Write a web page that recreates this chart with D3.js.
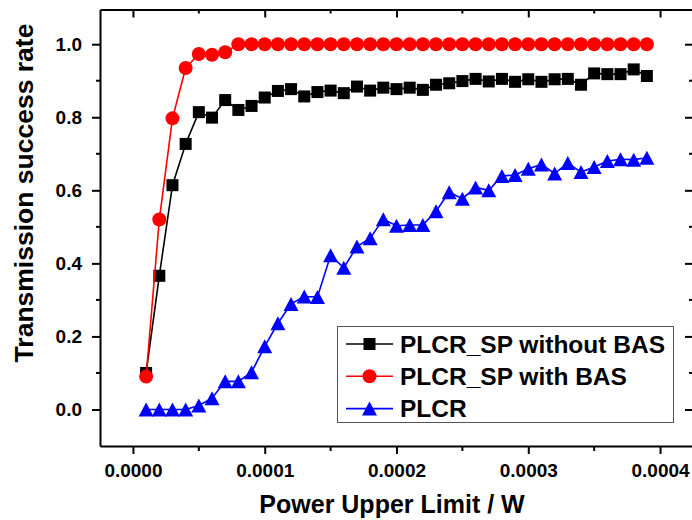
<!DOCTYPE html>
<html>
<head>
<meta charset="utf-8">
<script src="https://cdn.jsdelivr.net/npm/d3@7"></script>
<style>
  html, body { margin: 0; padding: 0; background: #fff; }
  svg { display: block; font-family: "Liberation Sans", Arial, sans-serif; font-weight: bold; }
</style>
</head>
<body>
<svg id="chart" width="692" height="520"></svg>
<script>
// Power upper limit (W)
const power = [
  0.00001, 0.00002, 0.00003, 0.00004, 0.00005, 0.00006, 0.00007, 0.00008, 0.00009, 0.00010,
  0.00011, 0.00012, 0.00013, 0.00014, 0.00015, 0.00016, 0.00017, 0.00018, 0.00019, 0.00020,
  0.00021, 0.00022, 0.00023, 0.00024, 0.00025, 0.00026, 0.00027, 0.00028, 0.00029, 0.00030,
  0.00031, 0.00032, 0.00033, 0.00034, 0.00035, 0.00036, 0.00037, 0.00038, 0.00039
];

// Transmission success rate per scheme
const spWithoutBAS = [
  0.100, 0.366, 0.614, 0.727, 0.814, 0.799, 0.847, 0.820, 0.831, 0.854,
  0.872, 0.877, 0.857, 0.869, 0.873, 0.866, 0.884, 0.873, 0.881, 0.877,
  0.881, 0.875, 0.889, 0.893, 0.899, 0.905, 0.898, 0.905, 0.897, 0.904,
  0.897, 0.904, 0.905, 0.889, 0.920, 0.918, 0.918, 0.931, 0.913
];
const spWithBAS = [
  0.090, 0.520, 0.797, 0.935, 0.973, 0.971, 0.978, 1.000, 1.000, 1.000,
  1.000, 1.000, 1.000, 1.000, 1.000, 1.000, 1.000, 1.000, 1.000, 1.000,
  1.000, 1.000, 1.000, 1.000, 1.000, 1.000, 1.000, 1.000, 1.000, 1.000,
  1.000, 1.000, 1.000, 1.000, 1.000, 1.000, 1.000, 1.000, 1.000
];
const plcr = [
  0.000, 0.000, 0.000, 0.000, 0.011, 0.031, 0.077, 0.077, 0.102, 0.173,
  0.236, 0.289, 0.309, 0.308, 0.422, 0.388, 0.446, 0.469, 0.521, 0.503,
  0.505, 0.505, 0.543, 0.595, 0.577, 0.608, 0.600, 0.639, 0.642, 0.659,
  0.671, 0.646, 0.675, 0.650, 0.664, 0.680, 0.685, 0.684, 0.689
];

const seriesNames = ["PLCR_SP without BAS", "PLCR_SP with BAS", "PLCR"];
const xTicks = [0, 0.0001, 0.0002, 0.0003, 0.0004];
const xMinorTicks = [0.00005, 0.00015, 0.00025, 0.00035];
const yTicks = [0, 0.2, 0.4, 0.6, 0.8, 1.0];
const yMinorTicks = [0.1, 0.3, 0.5, 0.7, 0.9];

const svg = d3.select("#chart");
const plotLeft = 100, plotRight = 693, plotTop = 9.5, plotBottom = 446;

const x = d3.scaleLinear().domain([-0.000025, 0.000425]).range([plotLeft, plotRight]);
const y = d3.scaleLinear().domain([-0.1, 1.095]).range([plotBottom, plotTop]);

const series = [
  { name: seriesNames[0], values: spWithoutBAS, color: "#000000", marker: "square" },
  { name: seriesNames[1], values: spWithBAS, color: "#ff0000", marker: "circle" },
  { name: seriesNames[2], values: plcr, color: "#0000ff", marker: "triangle" }
];

function drawMarker(g, type, color) {
  if (type === "square") {
    g.append("rect").attr("x", -6).attr("y", -6).attr("width", 12).attr("height", 12).attr("fill", color);
  } else if (type === "circle") {
    g.append("circle").attr("r", 7).attr("fill", color);
  } else {
    g.append("path").attr("d", "M0,-7L7.5,7L-7.5,7Z").attr("fill", color);
  }
}

// Data lines and markers
const line = d3.line().x((d, i) => x(power[i])).y(d => y(d));
series.forEach(s => {
  const g = svg.append("g");
  g.append("path").datum(s.values)
    .attr("d", line).attr("fill", "none")
    .attr("stroke", s.color).attr("stroke-width", 1.6);
  g.selectAll("g.pt").data(s.values).join("g")
    .attr("class", "pt")
    .attr("transform", (d, i) => `translate(${x(power[i])},${y(d)})`)
    .each(function() { drawMarker(d3.select(this), s.marker, s.color); });
});

// Axes
const fmtX = d3.format(".4f"), fmtY = d3.format(".1f");

const bottomAxis = svg.append("g").attr("transform", `translate(0,${plotBottom})`)
  .call(d3.axisBottom(x).tickValues(xTicks).tickFormat(fmtX).tickSizeInner(8).tickSizeOuter(0).tickPadding(10));
bottomAxis.append("g").attr("class", "minor").selectAll("line").data(xMinorTicks).join("line")
  .attr("x1", d => x(d)).attr("x2", d => x(d)).attr("y1", 0).attr("y2", 5);

const leftAxis = svg.append("g").attr("transform", `translate(${plotLeft},0)`)
  .call(d3.axisLeft(y).tickValues(yTicks).tickFormat(fmtY).tickSizeInner(8).tickSizeOuter(0).tickPadding(10));
leftAxis.append("g").attr("class", "minor").selectAll("line").data(yMinorTicks).join("line")
  .attr("x1", 0).attr("x2", -4).attr("y1", d => y(d)).attr("y2", d => y(d));

const topAxis = svg.append("g").attr("transform", `translate(0,${plotTop})`)
  .call(d3.axisTop(x).tickValues(xTicks).tickFormat("").tickSizeInner(-8).tickSizeOuter(0));
topAxis.append("g").attr("class", "minor").selectAll("line").data(xMinorTicks).join("line")
  .attr("x1", d => x(d)).attr("x2", d => x(d)).attr("y1", 0).attr("y2", 4);

const rightAxis = svg.append("g").attr("transform", `translate(${plotRight},0)`)
  .call(d3.axisRight(y).tickValues(yTicks).tickFormat("").tickSizeInner(-8).tickSizeOuter(0));
rightAxis.append("g").attr("class", "minor").selectAll("line").data(yMinorTicks).join("line")
  .attr("x1", 0).attr("x2", -4).attr("y1", d => y(d)).attr("y2", d => y(d));

svg.selectAll(".domain").attr("stroke", "#000").attr("stroke-width", 2);
svg.selectAll(".tick line, .minor line").attr("stroke", "#000").attr("stroke-width", 2);
svg.selectAll(".tick text").attr("font-size", 19).attr("font-weight", "bold")
  .attr("font-family", "'Liberation Sans', Arial, sans-serif").attr("fill", "#000");

// Axis titles
svg.append("text").attr("x", 392).attr("y", 512.5).attr("text-anchor", "middle")
  .attr("font-size", 25).text("Power Upper Limit / W");
svg.append("text").attr("transform", "translate(33,193) rotate(-90)").attr("text-anchor", "middle")
  .attr("font-size", 26.5).text("Transmission success rate");

// Legend
const legend = svg.append("g");
legend.append("rect").attr("x", 337.5).attr("y", 326.5).attr("width", 336).attr("height", 96)
  .attr("fill", "#fff").attr("stroke", "#555").attr("stroke-width", 1);
series.forEach((s, k) => {
  const cy = 344 + k * 32.3;
  const row = legend.append("g");
  row.append("line").attr("x1", 346).attr("x2", 393).attr("y1", cy).attr("y2", cy)
    .attr("stroke", s.color).attr("stroke-width", 1.6);
  const m = row.append("g").attr("transform", `translate(369.5,${cy})`);
  drawMarker(m, s.marker, s.color);
  row.append("text").attr("x", 400).attr("y", cy + 8.8).attr("font-size", 24.5).text(s.name);
});
</script>
</body>
</html>
